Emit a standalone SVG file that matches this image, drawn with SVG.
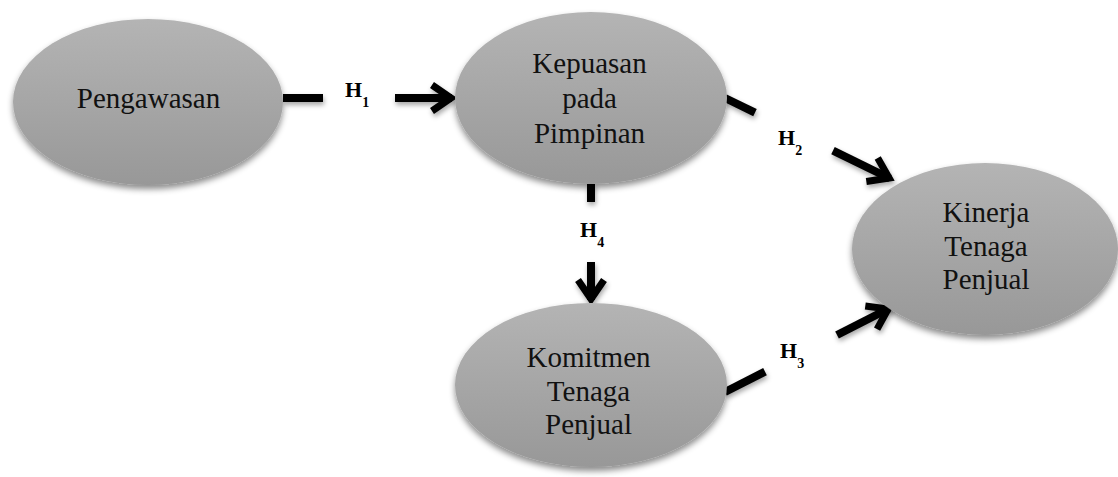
<svg xmlns="http://www.w3.org/2000/svg" width="1118" height="477" viewBox="0 0 1118 477">
<defs>
<linearGradient id="g" x1="0" y1="0" x2="0" y2="1">
<stop offset="0" stop-color="#b4b4b4"/>
<stop offset="1" stop-color="#989898"/>
</linearGradient>
<filter id="sh" x="-20%" y="-20%" width="140%" height="150%">
<feDropShadow dx="0" dy="4" stdDeviation="3" flood-color="#000" flood-opacity="0.45"/>
</filter>
<filter id="ash" x="-30%" y="-30%" width="160%" height="160%">
<feDropShadow dx="1" dy="3" stdDeviation="2.5" flood-color="#000" flood-opacity="0.35"/>
</filter>
<marker id="ah" markerUnits="userSpaceOnUse" viewBox="-30 -18 36 36" refX="0" refY="0" markerWidth="36" markerHeight="36" orient="auto">
<path d="M-20,-13 L-1,0 L-20,13" fill="none" stroke="#000" stroke-width="7" stroke-linejoin="miter" stroke-miterlimit="10"/>
</marker>
</defs>
<style>
.node{fill:url(#g);filter:url(#sh)}
.t{font-family:"Liberation Serif","Times New Roman",serif;font-size:29px;fill:#111;text-anchor:middle}
.lab{font-family:"Liberation Serif","Times New Roman",serif;font-weight:bold;font-size:22px;fill:#000}
.sub{font-size:14px}
.c{stroke:#000;stroke-width:8;fill:none}
</style>
<rect width="1118" height="477" fill="#fff"/>
<g id="connectors" filter="url(#ash)">
<line class="c" x1="283" y1="98" x2="323" y2="98"/>
<line class="c" x1="395" y1="98" x2="452" y2="98" marker-end="url(#ah)"/>
<line class="c" x1="725" y1="98" x2="755" y2="112.6"/>
<line class="c" x1="833" y1="150.7" x2="890" y2="178.5" marker-end="url(#ah)"/>
<line class="c" x1="591" y1="184" x2="591" y2="202"/>
<line class="c" x1="591" y1="262" x2="591" y2="300" marker-end="url(#ah)"/>
<line class="c" x1="725" y1="392" x2="765" y2="371.6"/>
<line class="c" x1="837" y1="335" x2="889" y2="308.5" marker-end="url(#ah)"/>
</g>
<g id="labels">
<text class="lab" x="345" y="97">H<tspan class="sub" dy="10">1</tspan></text>
<text class="lab" x="778" y="145">H<tspan class="sub" dy="10">2</tspan></text>
<text class="lab" x="580" y="237">H<tspan class="sub" dy="10">4</tspan></text>
<text class="lab" x="780" y="358">H<tspan class="sub" dy="10">3</tspan></text>
</g>
<g id="pengawasan">
<ellipse class="node" cx="148" cy="102" rx="135" ry="83"/>
<text class="t" x="148.5" y="108">Pengawasan</text>
</g>
<g id="kepuasan">
<ellipse class="node" cx="591" cy="98" rx="136" ry="86"/>
<text class="t" x="589.5" y="73">Kepuasan</text>
<text class="t" x="589.5" y="108">pada</text>
<text class="t" x="589.5" y="143">Pimpinan</text>
</g>
<g id="komitmen">
<ellipse class="node" cx="591" cy="385" rx="136" ry="82"/>
<text class="t" x="588.5" y="367">Komitmen</text>
<text class="t" x="588.5" y="401">Tenaga</text>
<text class="t" x="588.5" y="434">Penjual</text>
</g>
<g id="kinerja">
<ellipse class="node" cx="985" cy="249" rx="133" ry="86"/>
<text class="t" x="986" y="222">Kinerja</text>
<text class="t" x="986" y="256">Tenaga</text>
<text class="t" x="986" y="289">Penjual</text>
</g>
</svg>
